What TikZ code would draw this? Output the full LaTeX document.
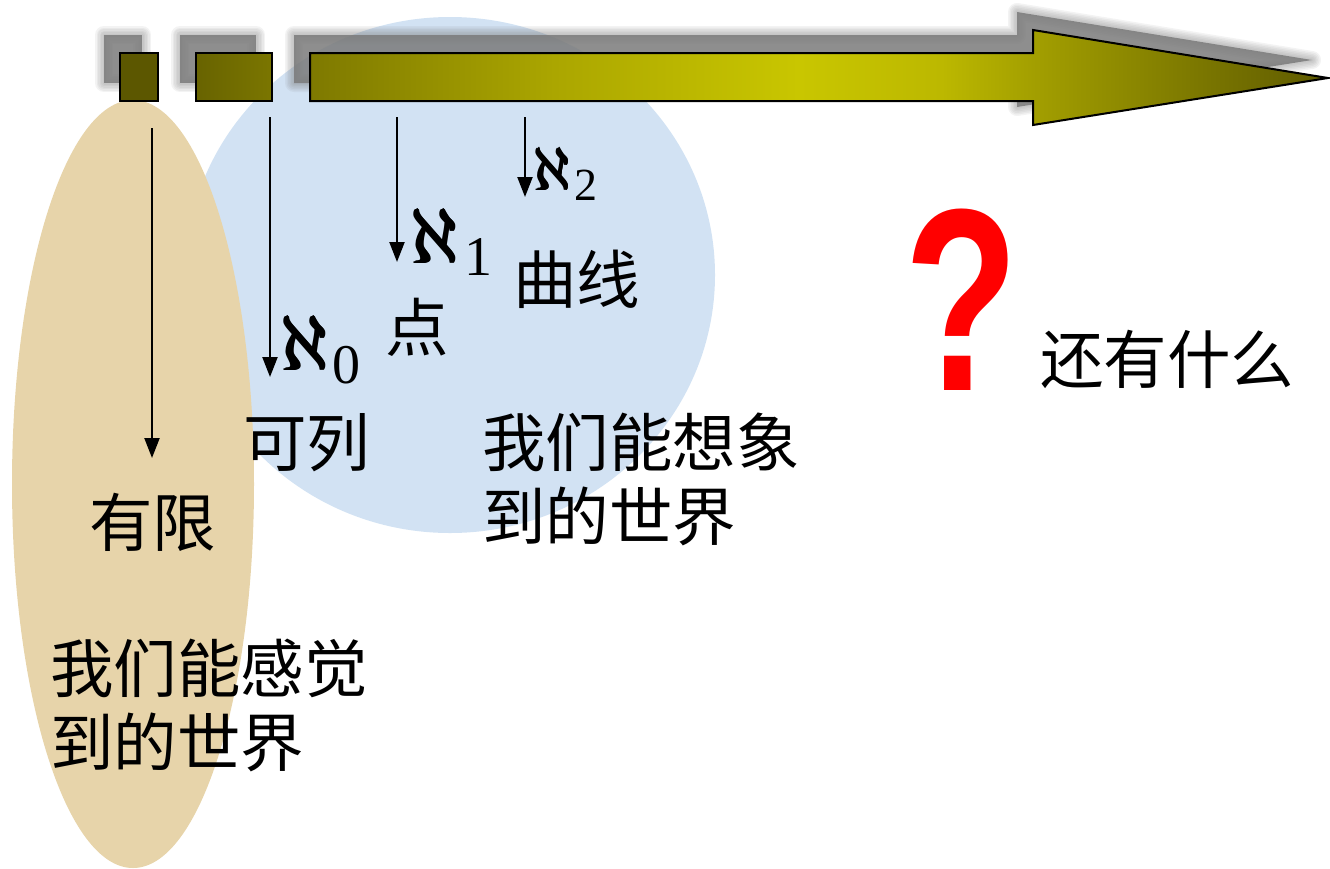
\documentclass[tikz,border=0pt]{standalone}
\usepackage{fontspec}
\newfontfamily\cjk{Noto Sans CJK SC}
\newfontfamily\tms{Liberation Serif}
\newfontfamily\qfont{Liberation Sans}
\usetikzlibrary{arrows.meta}
\definecolor{beige}{HTML}{E7D4AA}
\definecolor{skyblue}{HTML}{D2E2F3}
\definecolor{olA}{HTML}{7E7900}
\definecolor{olA2}{HTML}{ABA600}
\definecolor{olB}{HTML}{C9C600}
\definecolor{olB2}{HTML}{BCB800}
\definecolor{olC}{HTML}{A39F00}
\definecolor{olC2}{HTML}{7B7700}
\definecolor{olD}{HTML}{5E5A00}
\definecolor{olS}{HTML}{5C5700}
\definecolor{olM1}{HTML}{686300}
\definecolor{olM2}{HTML}{7B7600}
\definecolor{shad}{HTML}{7A7A7A}
\definecolor{qred}{HTML}{FF0000}
\pgfdeclarehorizontalshading{arrowsh}{100bp}{color(0bp)=(olA); color(25bp)=(olA); color(37bp)=(olA2); color(49bp)=(olB); color(56bp)=(olB2); color(60.5bp)=(olC); color(68.7bp)=(olC2); color(75bp)=(olD); color(100bp)=(olD)}
\tikzset{
  cjktext/.style={anchor=base west, inner sep=0pt, font=\cjk\fontsize{63.5}{74}\selectfont},
  alephtext/.style={anchor=base west, inner sep=0pt},
  arr/.style={line width=2.2pt, -{Triangle[width=15pt,length=20pt]}},
  bar/.style={draw=black, line width=2pt},
}
\newcommand{\shadowpath}[1]{%
  \begin{scope}[shift={(-16,-18)}]
    \foreach \w in {18,15,12,9,6,3}{
      \draw[shad, opacity=0.09, line width=\w pt, line join=round] #1;
    }
    \fill[shad, opacity=0.85] #1;
  \end{scope}}
% poor man's bold aleph, scaled
\newcommand{\bigaleph}[1]{\scalebox{#1}{\rlap{$\aleph$}\kern0.15pt\rlap{$\aleph$}\kern0.15pt\rlap{$\aleph$}\raisebox{0.1pt}{\rlap{$\aleph$}}\kern0.15pt$\aleph$}}
\begin{document}
\begin{tikzpicture}[x=1pt,y=-1pt]
\useasboundingbox (0,0) rectangle (1330,868);
% worlds
\fill[skyblue] (450,275) ellipse [x radius=265, y radius=258];
\fill[beige] (133,484) ellipse [x radius=121, y radius=384];
% shadows
\shadowpath{(120,53) rectangle (158,101)}
\shadowpath{(196,53) rectangle (272,101)}
\shadowpath{(310,53) -- (1033,53) -- (1033,30) -- (1328,78) -- (1033,125) -- (1033,101) -- (310,101) -- cycle}
% bars
\filldraw[bar, fill=olS] (120,53) rectangle (158,101);
\draw[bar, left color=olM1, right color=olM2] (196,53) rectangle (272,101);
\draw[bar, line join=miter, shading=arrowsh] (310,53) -- (1033,53) -- (1033,30) -- (1328,78) -- (1033,125) -- (1033,101) -- (310,101) -- cycle;
% arrows
\coordinate (a0s) at (152,128); \coordinate (a0e) at (152,458);
\coordinate (a1s) at (270,117); \coordinate (a1e) at (270,377);
\coordinate (a2s) at (397,117); \coordinate (a2e) at (397,262);
\coordinate (a3s) at (525,117); \coordinate (a3e) at (525,197);
\draw[arr] (a0s) -- (a0e);
\draw[arr] (a1s) -- (a1e);
\draw[arr] (a2s) -- (a2e);
\draw[arr] (a3s) -- (a3e);
% aleph labels
\node[alephtext] (al0) at (279,370) {\bigaleph{7.8}\kern2pt\raisebox{-13pt}{\tms\fontsize{56}{56}\selectfont 0}};
\node[alephtext] (al1) at (409,263) {\bigaleph{7.8}\kern4pt\raisebox{-12pt}{\tms\fontsize{56}{56}\selectfont 1}};
\node[alephtext] (al2) at (532,190) {\bigaleph{6.1}\kern2pt\raisebox{-10pt}{\tms\fontsize{46}{46}\selectfont 2}};
% texts
\node[cjktext] (youxian) at (89,546) {有限};
\node[cjktext] (kelie) at (243,466) {可列};
\node[cjktext] (dian) at (385,351) {点};
\node[cjktext] (quxian) at (513,303) {曲线};
\node[cjktext] (xiang1) at (482,466) {我们能想象};
\node[cjktext] (xiang2) at (482,540) {到的世界};
\node[cjktext] (gan1) at (50,692) {我们能感觉};
\node[cjktext] (gan2) at (50,766) {到的世界};
\node[cjktext] (haiyou) at (1040,383) {还有什么};
\node[inner sep=0pt, text=qred, xscale=0.72, font=\qfont\bfseries\fontsize{260}{260}\selectfont] (qm) at (962,300) {?};
\end{tikzpicture}
\end{document}
